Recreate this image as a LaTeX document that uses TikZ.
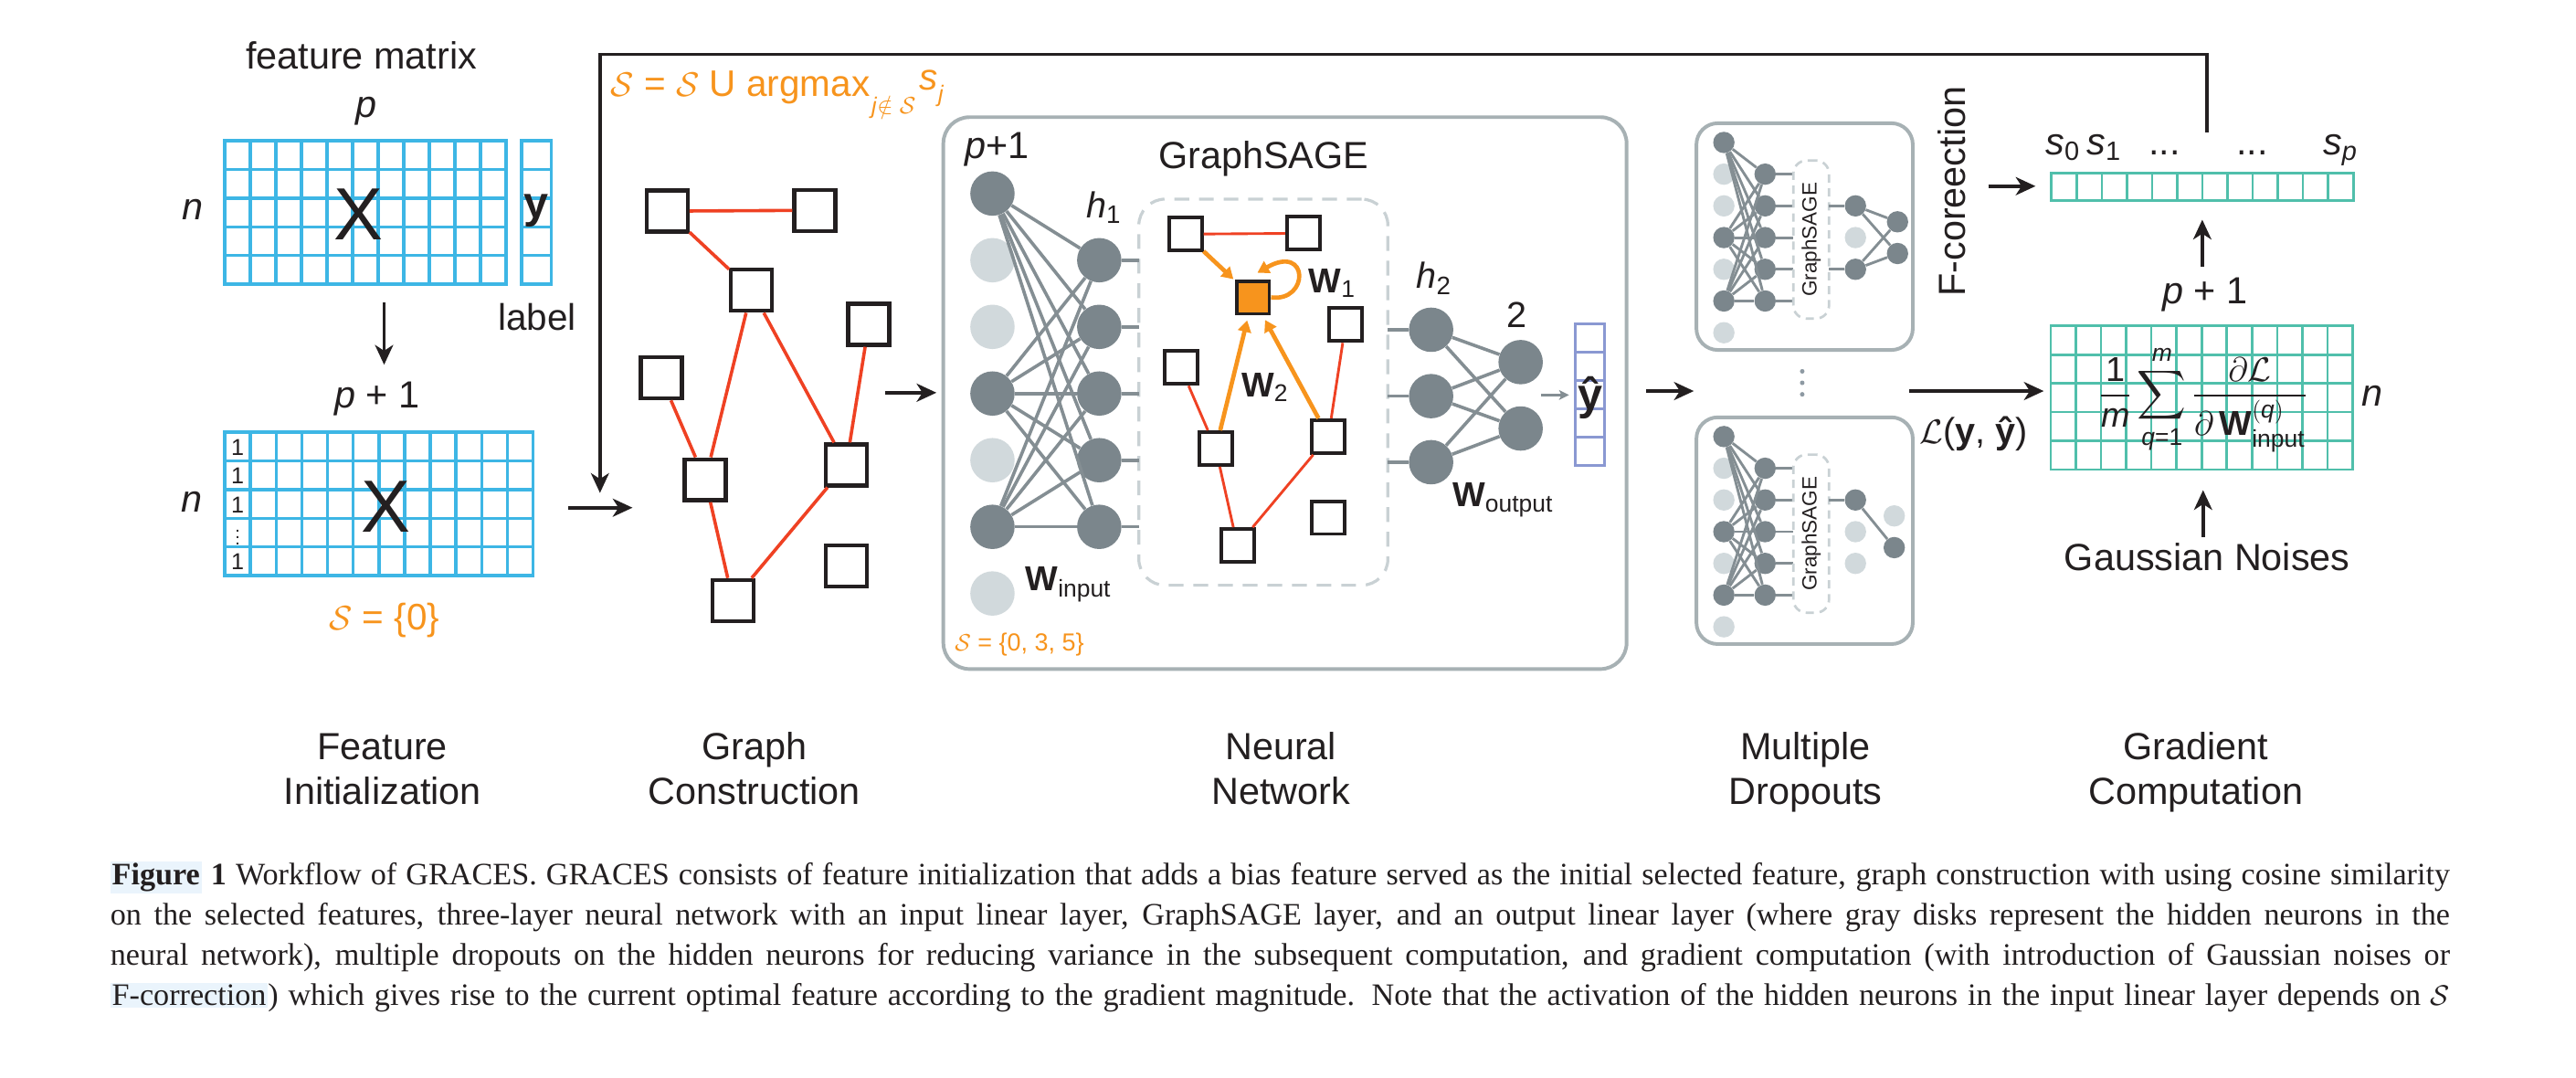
\documentclass[tikz,border=0pt]{standalone}
\usepackage{fontspec}
\usepackage{amsmath}
\usepackage{graphicx}
\setmainfont{Liberation Sans}
\newfontfamily\capfont{Liberation Serif}
\usetikzlibrary{arrows.meta}
\definecolor{gblue}{HTML}{3DB6E5}
\definecolor{gteal}{HTML}{50BFAB}
\definecolor{orng}{HTML}{F7941D}
\definecolor{gred}{HTML}{EF4123}
\definecolor{ndark}{HTML}{7B868C}
\definecolor{nlight}{HTML}{D1D9DC}
\definecolor{nedge}{HTML}{848E93}
\definecolor{boxg}{HTML}{A7B1B4}
\definecolor{dashg}{HTML}{C9D1D4}
\definecolor{lav}{HTML}{8A98D2}
\definecolor{ink}{HTML}{231F20}
\definecolor{linkbg}{HTML}{EAF4FC}
\definecolor{dotg}{HTML}{8E9AA3}
\newcommand{\fsz}[1]{\fontsize{#1}{#1}\selectfont}
\newcommand{\lsub}[1]{$_{\text{#1}}$}
\newcommand{\calS}{$\mathcal{S}$}
\newcommand{\matgrid}[7]{%
  \foreach \gi in {0,...,#3}{\draw[#7] ({#1+\gi*#5},{#2}) -- ({#1+\gi*#5},{#2+#4*#6});}
  \foreach \gj in {0,...,#4}{\draw[#7] ({#1},{#2+\gj*#6}) -- ({#1+#3*#5},{#2+\gj*#6});}
}
\newsavebox{\capbox}
\newcommand{\fitline}[1]{\sbox{\capbox}{#1}\ifdim\wd\capbox>1424pt\relax\resizebox{1424pt}{\height}{\usebox{\capbox}}\else\makebox[1424pt][s]{#1}\fi}
\newcommand{\mininet}[2]{%
  \foreach \k/\st in {2/mneul,3/mneul,5/mneul,7/mneul}
    \node[\st] (#1i\k) at (1049.3,{#2+86.7+19.3*(\k-1)}) {};
  \foreach \k in {2,...,6}
    \node[mneu] (#1h\k) at (1074.4,{#2+86.7+19.3*(\k-1)}) {};
  \foreach \k in {1,4,6}
    \node[mneu] (#1i\k) at (1049.3,{#2+86.7+19.3*(\k-1)}) {};
  \foreach \a in {1,4,6}{\foreach \b in {2,...,6}{\draw[medge] (#1i\a) -- (#1h\b);}}
  \foreach \b in {2,...,6}{\coordinate (#1s\b) at (1091.6,{#2+86.7+19.3*(\b-1)}); \draw[medge] (#1h\b) -- (#1s\b);}
  \node[mdbox,minimum width=21.7pt,minimum height=96.2pt] (#1gs) at (1102.45,{#2+145.8}) {};
  \node[txt,rotate=90,font={\fsz{12.5}}] (#1gt) at (1102.45,{#2+145.8}) {GraphSAGE};
}
\begin{document}
\begin{tikzpicture}[x=1pt,y=-1pt,
  gridb/.style={draw=gblue,line width=1.9pt,line cap=rect},
  gridt/.style={draw=gteal,line width=1.5pt,line cap=rect},
  gridl/.style={draw=lav,line width=1.6pt,line cap=rect},
  arr/.style={draw=ink,line width=2pt,-{Stealth[length=12pt,width=11pt,inset=3.5pt]}},
  garr/.style={draw=nedge,line width=2pt,-{Stealth[length=6pt,width=6pt,inset=1.5pt]}},
  gsq/.style={draw=ink,line width=2.4pt,fill=white,minimum width=25pt,minimum height=25pt,inner sep=0pt},
  nsq/.style={draw=ink,line width=2.2pt,fill=white,minimum width=20pt,minimum height=20pt,inner sep=0pt},
  redge/.style={draw=gred,line width=2pt},
  nredge/.style={draw=gred,line width=1.6pt},
  oarr/.style={draw=orng,line width=2.6pt,-{Triangle[length=7pt,width=8pt]},shorten >=1pt},
  neu/.style={circle,fill=ndark,minimum size=27pt,inner sep=0pt},
  neul/.style={circle,fill=nlight,minimum size=27pt,inner sep=0pt},
  mneu/.style={circle,fill=ndark,minimum size=13pt,inner sep=0pt},
  mneul/.style={circle,fill=nlight,minimum size=13pt,inner sep=0pt},
  nnedge/.style={draw=nedge,line width=2pt},
  medge/.style={draw=nedge,line width=1.6pt},
  panel/.style={draw=boxg,line width=2.2pt,rounded corners=16pt,inner sep=0pt},
  dbox/.style={draw=dashg,line width=1.8pt,dash pattern=on 9pt off 6pt,rounded corners=16pt,inner sep=0pt},
  mdbox/.style={draw=dashg,line width=1.5pt,dash pattern=on 5pt off 3.5pt,rounded corners=8pt,inner sep=0pt},
  txt/.style={inner sep=0pt,text=ink},
  otxt/.style={inner sep=0pt,text=orng},
]
\fill[white] (0,0) rectangle (1568,656);
\useasboundingbox (0,0) rectangle (1568,656);

% ================= Feature initialization =================
\node[txt,anchor=base,font={\fsz{23}}] (fmat) at (220,42.2) {feature matrix};
\node[txt,anchor=base,font={\fsz{23}\itshape}] (ptop) at (223,71.5) {p};
\matgrid{136.8}{85.6}{11}{5}{15.56}{17.48}{gridb}
\matgrid{317.6}{85.6}{1}{5}{17.8}{17.48}{gridb}
\node[txt,anchor=base,font={\fsz{23}\itshape}] (ntop) at (117.5,134) {n};
\node[txt,anchor=base,font={\fsz{45}}] (Xtop) at (218,146) {X};
\node[txt,anchor=base,font={\fsz{27}\bfseries}] (ylab) at (326.5,132.5) {y};
\node[txt,anchor=base,font={\fsz{22.5}}] (labeltxt) at (327,201) {label};
\coordinate (da1) at (233.8,184);
\coordinate (da2) at (233.8,222);
\draw[arr] (da1) -- (da2);
\node[txt,anchor=base,font={\fsz{23}}] (pp1) at (229.5,248.5) {\textit{p} + 1};
\matgrid{136.8}{263}{12}{5}{15.64}{17.48}{gridb}
\foreach \r in {0,1,2,4}
  \node[txt,anchor=base,font={\fsz{14}}] (one\r) at (144.6,{263+14+\r*17.48}) {1};
\node[txt,font={\fsz{11}}] (onedots) at (144.6,{263+8.6+3*17.48}) {$\vdots$};
\node[txt,anchor=base,font={\fsz{23}\itshape}] (nbot) at (117,311.5) {n};
\node[txt,anchor=base,font={\fsz{45}}] (Xbot) at (235,324) {X};
\node[otxt,anchor=base,font={\fsz{22.5}}] (s0set) at (234,383.5) {\calS{} = \{0\}};
\coordinate (ha1) at (346,309);
\coordinate (ha2) at (385,309);
\draw[arr] (ha1) -- (ha2);

% feedback loop
\coordinate (fbs) at (1343.5,80.4);
\coordinate (fbc) at (365.2,33);
\coordinate (fbe) at (365.2,300);
\draw[arr] (fbs) |- (fbc) -- (fbe);
\node[otxt,anchor=base west,font={\fsz{22.5}}] (upd) at (371.7,58.5) {\calS{} = \calS{} U argmax\kern1pt\raisebox{-11pt}{\fsz{14}\textit{j}$\notin\mathcal{S}$}\kern2pt\raisebox{4pt}{\itshape s}\kern0.5pt\raisebox{-3.5pt}{\fsz{14}\itshape j}};

% ================= Graph construction =================
\node[gsq] (gA) at (406,128.5) {};
\node[gsq] (gB) at (496,128) {};
\node[gsq] (gC) at (457.5,176.7) {};
\node[gsq] (gD) at (528.8,197.4) {};
\node[gsq] (gE) at (402.5,230) {};
\node[gsq] (gF) at (429.3,292) {};
\node[gsq] (gG) at (515.1,283) {};
\node[gsq] (gH) at (515.1,344.5) {};
\node[gsq] (gI) at (446.1,365.5) {};
\draw[redge] (gA) -- (gB);
\draw[redge] (gA) -- (gC);
\draw[redge] (gC) -- (gF);
\draw[redge] (gC) -- (gG);
\draw[redge] (gD) -- (gG);
\draw[redge] (gE) -- (gF);
\draw[redge] (gF) -- (gI);
\draw[redge] (gG) -- (gI);
\coordinate (gc1) at (538.6,239);
\coordinate (gc2) at (570,239);
\draw[arr] (gc1) -- (gc2);

% ================= Neural network =================
\node[panel,minimum width=415.9pt,minimum height=335.9pt] (nnbox) at (782.15,239.25) {};
\node[dbox,minimum width=151.6pt,minimum height=235pt] (gsbox) at (769,238.7) {};
\node[txt,anchor=base,font={\fsz{23}}] (nnp1) at (606.7,96.3) {\textit{p}+1};
\node[txt,anchor=base,font={\fsz{23}}] (gstitle) at (769,102.5) {GraphSAGE};
\foreach \k in {2,3,5,7}
  \node[neul] (i\k) at (604.1,{117.8+40.57*(\k-1)}) {};
\foreach \k in {1,4,6}
  \node[neu] (i\k) at (604.1,{117.8+40.57*(\k-1)}) {};
\foreach \k in {2,...,6}
  \node[neu] (h\k) at (669.1,{117.8+40.57*(\k-1)}) {};
\foreach \a in {1,4,6}{\foreach \b in {2,...,6}{\draw[nnedge] (i\a) -- (h\b);}}
\foreach \b in {2,...,6}{\coordinate (hs\b) at (693.2,{117.8+40.57*(\b-1)}); \draw[nnedge] (h\b) -- (hs\b);}
\node[txt,anchor=base west,font={\fsz{22}}] (h1lab) at (661,132.6) {\textit{h}\lsub{1}};
\node[txt,anchor=base west,font={\fsz{21}}] (winp) at (624,359.6) {\textbf{W}\lsub{input}};
\node[otxt,anchor=base west,font={\fsz{15}}] (s035) at (581,396) {\calS{} = \{0, 3, 5\}};
% GraphSAGE inner graph
\node[nsq] (na) at (721.5,142.5) {};
\node[nsq] (nb) at (793.3,142) {};
\node[nsq,fill=orng] (nc) at (762.6,181) {};
\node[nsq] (nd) at (819,197.6) {};
\node[nsq] (ne) at (718.7,223.7) {};
\node[nsq] (nf) at (740,273) {};
\node[nsq] (ng) at (808.6,265.7) {};
\node[nsq] (nh) at (808.6,315) {};
\node[nsq] (ni) at (753.2,332) {};
\draw[nredge] (na) -- (nb);
\draw[nredge] (ne) -- (nf);
\draw[nredge] (nf) -- (ni);
\draw[nredge] (ni) -- (ng);
\draw[nredge] (ng) -- (nd);
\draw[oarr] (na) -- (nc);
\draw[oarr,shorten >=3pt] (nf) -- (nc);
\draw[oarr,shorten >=3pt] (ng) -- (nc);
\coordinate (ncl) at (764.5,166.5);
\draw[oarr] (nc.east) .. controls (797,184) and (797,148) .. (ncl);
\node[txt,anchor=base west,font={\fsz{21}}] (w1lab) at (796.4,178) {\textbf{W}\lsub{1}};
\node[txt,anchor=base west,font={\fsz{21}}] (w2lab) at (755.5,241.5) {\textbf{W}\lsub{2}};
% h2 and output
\node[neu] (q1) at (871.1,200.7) {};
\node[neu] (q2) at (871.1,241.1) {};
\node[neu] (q3) at (871.1,281.3) {};
\node[neu] (o1) at (925.6,220.4) {};
\node[neu] (o2) at (925.6,260.8) {};
\foreach \q/\y in {1/200.7,2/241.1,3/281.3}{\coordinate (qs\q) at (844.8,\y); \draw[nnedge] (qs\q) -- (q\q);}
\foreach \a in {1,2,3}{\foreach \b in {1,2}{\draw[nnedge] (q\a) -- (o\b);}}
\node[txt,anchor=base west,font={\fsz{22}}] (h2lab) at (862,175.7) {\textit{h}\lsub{2}};
\node[txt,anchor=base,font={\fsz{22}}] (twolab) at (923.5,199.5) {2};
\node[txt,anchor=base west,font={\fsz{21}}] (wout) at (884,308.5) {\textbf{W}\lsub{output}};
\matgrid{958.8}{197.3}{1}{5}{18}{17.24}{gridl}
\node[txt,anchor=base,font={\fsz{27}\bfseries}] (yhat) at (967.8,249.3) {ŷ};
\coordinate (ya1) at (938,240.4);
\coordinate (ya2) at (955,240.4);
\draw[garr] (ya1) -- (ya2);

% ================= Multiple dropouts =================
\coordinate (dr1) at (1002,238);
\coordinate (dr2) at (1031,238);
\draw[arr] (dr1) -- (dr2);
\node[panel,rounded corners=13pt,minimum width=131.7pt,minimum height=138pt] (dtop) at (1098.45,144) {};
\node[panel,rounded corners=13pt,minimum width=131.7pt,minimum height=138pt] (dbot) at (1098.45,323) {};
\mininet{t}{0}
\mininet{b}{179}
% top right part
\node[mneul] (tq4) at (1129.4,144.6) {};
\node[mneu] (tq3) at (1129.4,125.3) {};
\node[mneu] (tq5) at (1129.4,163.9) {};
\node[mneu] (to1) at (1155,135) {};
\node[mneu] (to2) at (1155,154.3) {};
\coordinate (tqs3) at (1113.3,125.3);
\coordinate (tqs5) at (1113.3,163.9);
\draw[medge] (tqs3) -- (tq3);
\draw[medge] (tqs5) -- (tq5);
\foreach \a in {3,5}{\foreach \b in {1,2}{\draw[medge] (tq\a) -- (to\b);}}
% bottom right part
\node[mneu] (bq3) at (1129.4,304.3) {};
\node[mneul] (bq4) at (1129.4,323.6) {};
\node[mneul] (bq5) at (1129.4,342.9) {};
\node[mneul] (bo1) at (1153,314) {};
\node[mneu] (bo2) at (1153,333.3) {};
\coordinate (bqs3) at (1113.3,304.3);
\draw[medge] (bqs3) -- (bq3);
\draw[medge] (bq3) -- (bo2);
% vertical dots
\foreach \d/\y in {1/226,2/233,3/240}
  \node[circle,fill=dotg,minimum size=2.8pt,inner sep=0pt] (vd\d) at (1097,\y) {};

% ================= Gradient computation =================
\coordinate (la1) at (1162,238);
\coordinate (la2) at (1244,238);
\draw[arr] (la1) -- (la2);
\node[txt,anchor=base,font={\fsz{22}}] (losslab) at (1201.5,270) {$\mathcal{L}$(\textbf{y}, \textbf{ŷ})};
\node[txt,rotate=90,font={\fsz{23}}] (fcor) at (1188,116.6) {F-coreection};
\coordinate (fa1) at (1210.2,113.3);
\coordinate (fa2) at (1239,113.3);
\draw[arr] (fa1) -- (fa2);
\matgrid{1248.7}{105.3}{12}{1}{15.31}{16.6}{gridt}
\node[txt,anchor=base west,font={\fsz{23}}] (s0lab) at (1245,94) {\textit{s}\lsub{0}};
\node[txt,anchor=base west,font={\fsz{23}}] (s1lab) at (1270,94) {\textit{s}\lsub{1}};
\node[txt,anchor=base,font={\fsz{23}}] (dots1) at (1317.5,94) {...};
\node[txt,anchor=base,font={\fsz{23}}] (dots2) at (1371,94) {...};
\node[txt,anchor=base west,font={\fsz{23}}] (splab) at (1413.8,94) {\textit{s}\lsub{\itshape p}};
\coordinate (ua1) at (1340.5,162.1);
\coordinate (ua2) at (1340.5,133.7);
\draw[arr] (ua1) -- (ua2);
\node[txt,anchor=base,font={\fsz{23}}] (gp1) at (1342,184.8) {\textit{p} + 1};
\matgrid{1248.2}{198.4}{12}{5}{15.32}{17.48}{gridt}
\node[txt,anchor=base,font={\fsz{23}\itshape}] (gn) at (1444,247) {n};
\node[txt,font={\fsz{21}}] (formula) at (1341,243) {$\displaystyle\frac{\text{1}}{\text{\itshape m}}\sum_{\text{\itshape q}\text{=1}}^{\text{\itshape m}}\frac{\partial\mathcal{L}}{\partial\,\text{\bfseries W}^{(\text{\itshape q})}_{\text{input}}}$};
\coordinate (gn1) at (1341,326.7);
\coordinate (gn2) at (1341,298.3);
\draw[arr] (gn1) -- (gn2);
\node[txt,anchor=base,font={\fsz{23}}] (gauss) at (1343.5,347) {Gaussian Noises};

% ================= Section labels =================
\foreach \nm/\x/\la/\lb in {fi/232.8/Feature/Initialization,gc/459.2/Graph/Construction,nn/779.7/Neural/Network,md/1099/Multiple/Dropouts,gr/1336.6/Gradient/Computation}{
  \node[txt,anchor=base,font={\fsz{23}}] (\nm a) at (\x,462.6) {\la};
  \node[txt,anchor=base,font={\fsz{23}}] (\nm b) at (\x,489.4) {\lb};
}

% ================= Caption =================
\setlength{\fboxsep}{1pt}
\node[txt,anchor=base west,font={\capfont\fsz{19}}] (cap1) at (67,538.5) {\fitline{\colorbox{linkbg}{\bfseries Figure} \textbf{1} Workflow of GRACES. GRACES consists of feature initialization that adds a bias feature served as the initial selected feature, graph construction with using cosine similarity}};
\node[txt,anchor=base west,font={\capfont\fsz{19}}] (cap2) at (67,563) {\fitline{on the selected features, three-layer neural network with an input linear layer, GraphSAGE layer, and an output linear layer (where gray disks represent the hidden neurons in the}};
\node[txt,anchor=base west,font={\capfont\fsz{19}}] (cap3) at (67,587.5) {\fitline{neural network), multiple dropouts on the hidden neurons for reducing variance in the subsequent computation, and gradient computation (with introduction of Gaussian noises or}};
\node[txt,anchor=base west,font={\capfont\fsz{19}}] (cap4) at (67,612) {\fitline{\colorbox{linkbg}{F-correction}) which gives rise to the current optimal feature according to the gradient magnitude. Note that the activation of the hidden neurons in the input linear layer depends on $\mathcal{S}$}};
\end{tikzpicture}
\end{document}
